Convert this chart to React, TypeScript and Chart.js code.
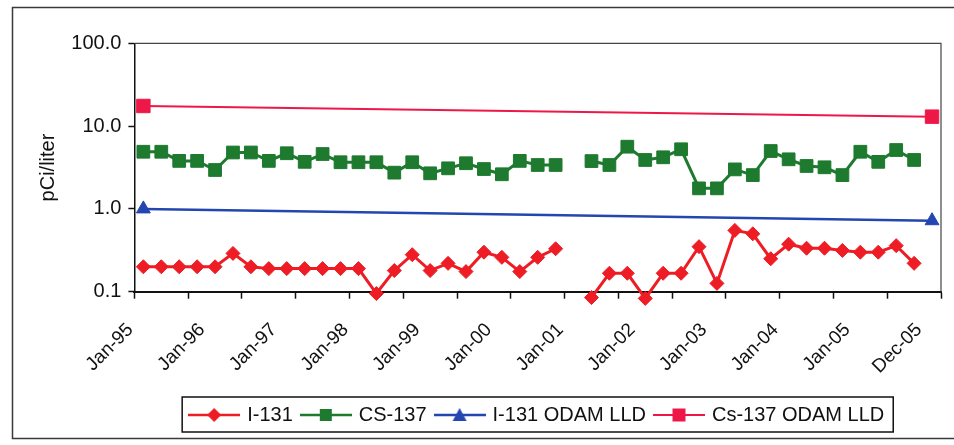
import React, { useEffect, useRef } from 'react';
import { Chart, registerables } from 'chart.js';

Chart.register(...registerables);

const FONT = "'Liberation Sans', Arial, sans-serif";

// Quarterly sampling categories (Jan, Apr, Jul, Oct) plus the closing Dec-05 category
const categories = [
  'Jan-95', 'Apr-95', 'Jul-95', 'Oct-95',
  'Jan-96', 'Apr-96', 'Jul-96', 'Oct-96',
  'Jan-97', 'Apr-97', 'Jul-97', 'Oct-97',
  'Jan-98', 'Apr-98', 'Jul-98', 'Oct-98',
  'Jan-99', 'Apr-99', 'Jul-99', 'Oct-99',
  'Jan-00', 'Apr-00', 'Jul-00', 'Oct-00',
  'Jan-01', 'Apr-01', 'Jul-01', 'Oct-01',
  'Jan-02', 'Apr-02', 'Jul-02', 'Oct-02',
  'Jan-03', 'Apr-03', 'Jul-03', 'Oct-03',
  'Jan-04', 'Apr-04', 'Jul-04', 'Oct-04',
  'Jan-05', 'Apr-05', 'Jul-05', 'Oct-05',
  'Dec-05',
];

const tickLabels = [
  'Jan-95', 'Jan-96', 'Jan-97', 'Jan-98', 'Jan-99', 'Jan-00',
  'Jan-01', 'Jan-02', 'Jan-03', 'Jan-04', 'Jan-05', 'Dec-05',
];

const yTicks = [0.1, 1, 10, 100];

const i131 = [
  0.20, 0.20, 0.20, 0.20, 0.20, 0.29, 0.20, 0.19, 0.19, 0.19, 0.19, 0.19,
  0.19, 0.095, 0.18, 0.28, 0.18, 0.22, 0.175, 0.30, 0.26, 0.175, 0.26, 0.33,
  null, 0.085, 0.167, 0.167, 0.083, 0.167, 0.167, 0.35, 0.126, 0.55, 0.50, 0.25,
  0.375, 0.335, 0.335, 0.315, 0.30, 0.30, 0.36, 0.22,
];

const cs137 = [
  4.9, 4.9, 3.8, 3.8, 2.95, 4.8, 4.8, 3.8, 4.7, 3.7, 4.6, 3.66,
  3.66, 3.66, 2.74, 3.66, 2.69, 3.09, 3.56, 3.03, 2.62, 3.8, 3.39, 3.39,
  null, 3.78, 3.39, 5.64, 3.9, 4.2, 5.25, 1.77, 1.77, 3.0, 2.56, 5.0,
  3.97, 3.3, 3.18, 2.56, 4.9, 3.7, 5.14, 3.9,
];

const i131LldCats = ['Jan-95', 'Dec-05'];
const i131LldValues = [1.0, 0.72];
const cs137LldCats = ['Jan-95', 'Dec-05'];
const cs137LldValues = [17.5, 13.0];

const seriesNames = ['I-131', 'CS-137', 'I-131 ODAM LLD', 'Cs-137 ODAM LLD'];
const RED = '#ee1c24';
const GREEN = '#1d7a2e';
const BLUE = '#2346b0';
const CRIMSON = '#ee1848';

function makeIcon(color: string, shape: string, lineW: number) {
  const W = 52;
  const m = W / 2;
  const c = document.createElement('canvas');
  c.width = W;
  c.height = 18;
  const g = c.getContext('2d')!;
  g.strokeStyle = color;
  g.fillStyle = color;
  g.lineWidth = lineW;
  g.beginPath();
  g.moveTo(0, 9);
  g.lineTo(W, 9);
  g.stroke();
  g.beginPath();
  if (shape === 'diamond') {
    g.moveTo(m, 2); g.lineTo(m + 7, 9); g.lineTo(m, 16); g.lineTo(m - 7, 9);
  } else if (shape === 'square') {
    g.rect(m - 6, 3, 12, 12);
  } else if (shape === 'triangle') {
    g.moveTo(m, 2); g.lineTo(m + 7, 15); g.lineTo(m - 7, 15);
  } else {
    g.rect(m - 6.5, 2.5, 13, 13);
  }
  g.closePath();
  g.fill();
  return c;
}

const framePlugin = {
  id: 'framePlugin',
  beforeDraw(chart: any) {
    const ctx = chart.ctx;
    ctx.save();
    ctx.fillStyle = '#ffffff';
    ctx.fillRect(0, 0, chart.width, chart.height);
    ctx.strokeStyle = '#3a3a3a';
    ctx.lineWidth = 1.5;
    ctx.strokeRect(12.5, 7.5, chart.width + 20, 431);
    ctx.restore();
  },
  afterDraw(chart: any) {
    const ctx = chart.ctx;
    const a = chart.chartArea;
    ctx.save();
    ctx.strokeStyle = '#444';
    ctx.lineWidth = 1.2;
    ctx.beginPath();
    ctx.moveTo(a.left, a.top);
    ctx.lineTo(a.right, a.top);
    ctx.lineTo(a.right, a.bottom);
    ctx.stroke();
    const hb = chart.legend && chart.legend.legendHitBoxes;
    if (hb && hb.length) {
      let l = Infinity, r = -Infinity, t = Infinity, b = -Infinity;
      hb.forEach((h: any) => {
        l = Math.min(l, h.left);
        r = Math.max(r, h.left + h.width);
        t = Math.min(t, h.top);
        b = Math.max(b, h.top + h.height);
      });
      ctx.strokeStyle = '#111';
      ctx.lineWidth = 1.5;
      ctx.strokeRect(l - 9, t - 8, r - l + 18, b - t + 15);
    }
    ctx.restore();
  },
};

export default function App() {
  const ref = useRef<HTMLCanvasElement | null>(null);

  useEffect(() => {
    if (!ref.current) return;
    const icons = [
      makeIcon(RED, 'diamond', 2.5),
      makeIcon(GREEN, 'square', 2.5),
      makeIcon(BLUE, 'triangle', 2.5),
      makeIcon(CRIMSON, 'bigsquare', 2),
    ];
    const chart = new Chart(ref.current, {
      type: 'line',
      data: {
        labels: categories,
        datasets: [
          {
            label: seriesNames[0],
            data: i131,
            borderColor: RED,
            backgroundColor: RED,
            borderWidth: 3,
            pointStyle: 'rectRot',
            pointRadius: 7,
            pointBorderWidth: 1,
            spanGaps: false,
            clip: false,
          },
          {
            label: seriesNames[1],
            data: cs137,
            borderColor: GREEN,
            backgroundColor: GREEN,
            borderWidth: 3,
            pointStyle: 'rect',
            pointRadius: 9,
            pointBorderWidth: 1,
            spanGaps: false,
            clip: false,
          },
          {
            label: seriesNames[2],
            data: i131LldCats.map((c, k) => ({ x: c, y: i131LldValues[k] })),
            borderColor: BLUE,
            backgroundColor: BLUE,
            borderWidth: 2.5,
            pointStyle: 'triangle',
            pointRadius: 8,
            pointBorderWidth: 1,
            spanGaps: true,
            clip: false,
          },
          {
            label: seriesNames[3],
            data: cs137LldCats.map((c, k) => ({ x: c, y: cs137LldValues[k] })),
            borderColor: CRIMSON,
            backgroundColor: CRIMSON,
            borderWidth: 2,
            pointStyle: 'rect',
            pointRadius: 9.5,
            pointBorderWidth: 1,
            spanGaps: true,
            clip: false,
          },
        ] as any,
      },
      options: {
        animation: false,
        responsive: true,
        maintainAspectRatio: false,
        layout: { padding: { top: 43.3, right: 13, bottom: 10, left: 0 } },
        plugins: {
          tooltip: { enabled: false },
          legend: {
            position: 'bottom',
            fullSize: false,
            labels: {
              usePointStyle: true,
              pointStyleWidth: 46,
              padding: 10,
              color: '#111',
              font: { size: 20, family: FONT },
              generateLabels: (c: any) => {
                const items = (Chart.defaults.plugins.legend.labels as any).generateLabels(c);
                return items.map((it: any, i: number) => ({ ...it, pointStyle: icons[i], lineWidth: 0 }));
              },
            },
          },
        },
        scales: {
          x: {
            type: 'category',
            offset: true,
            grid: {
              offset: true,
              drawOnChartArea: false,
              tickLength: 7,
              tickWidth: 1.5,
              tickColor: (c: any) =>
                ((c.index ?? categories.length) % 3 === 0 ? '#111' : 'rgba(0,0,0,0)'),
            },
            border: { color: '#111', width: 2 },
            ticks: {
              autoSkip: false,
              maxRotation: 45,
              minRotation: 45,
              padding: 20,
              labelOffset: -13,
              color: '#111',
              font: { size: 19, family: FONT },
              callback: (_v: any, i: number) =>
                (tickLabels.includes(categories[i]) ? categories[i] : ''),
            },
            afterFit: (s: any) => {
              s.height = 103.3;
              s.paddingRight = 0;
              s.paddingLeft = 0;
            },
          },
          y: {
            type: 'logarithmic',
            min: 0.1,
            max: 100,
            afterBuildTicks: (s: any) => { s.ticks = yTicks.map((v) => ({ value: v })); },
            ticks: {
              color: '#111',
              padding: 7,
              font: { size: 20, family: FONT },
              callback: (v: any) => Number(v).toFixed(1),
            },
            grid: { drawOnChartArea: false, tickLength: 6, tickWidth: 1.5, tickColor: '#111' },
            border: { color: '#111', width: 1.5 },
            title: {
              display: true,
              text: 'pCi/liter',
              color: '#111',
              font: { size: 20, family: FONT },
              padding: { top: 36, bottom: 0 },
            },
            afterFit: (s: any) => { s.width = 134.4; },
          },
        },
      } as any,
      plugins: [framePlugin],
    });
    return () => chart.destroy();
  }, []);

  return (
    <div style={{ position: 'absolute', left: 0, top: 0, width: 954, height: 445 }}>
      <canvas ref={ref} />
    </div>
  );
}
